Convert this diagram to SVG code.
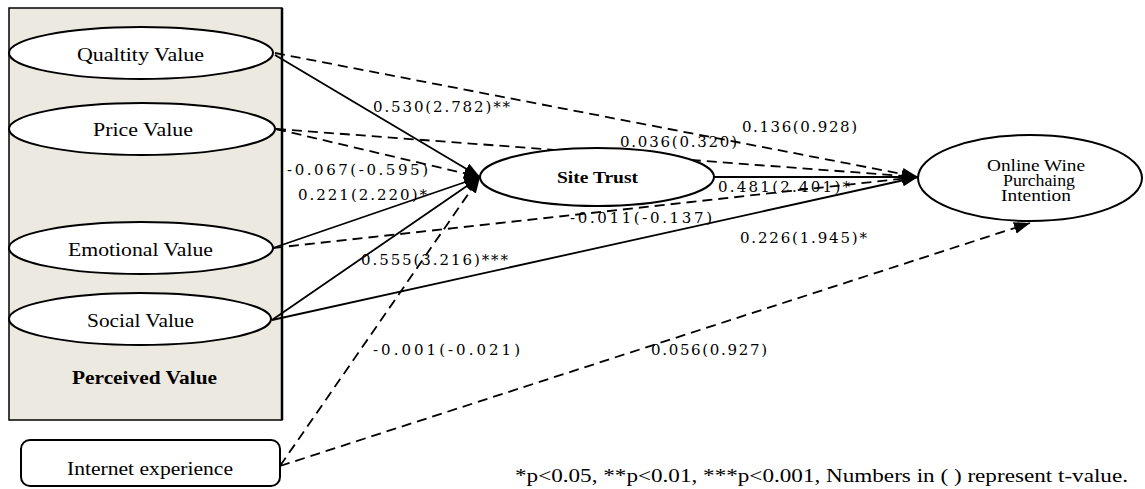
<svg xmlns="http://www.w3.org/2000/svg" width="1145" height="489" viewBox="0 0 1145 489">
  <style>
    .node { fill: #ffffff; stroke: #000000; stroke-width: 2; }
    .lbl { font-family: "Liberation Serif", "Times New Roman", serif; font-size: 18px; fill: #000000; }
    .bold { font-weight: bold; }
    .coef { font-family: "DejaVu Serif", "Liberation Serif", serif; font-size: 15px; fill: #000000; }
    .path { fill: none; stroke: #000000; stroke-width: 1.8; }
    .dash { stroke-dasharray: 10 6; }
  </style>
  <defs>
    <marker id="head" viewBox="0 0 16 12" refX="16" refY="6" markerWidth="16" markerHeight="12" markerUnits="userSpaceOnUse" orient="auto">
      <path d="M0,0 L16,6 L0,12 Z" fill="#000000"/>
    </marker>
  </defs>

  <rect width="1145" height="489" fill="#ffffff"/>

  <!-- Perceived value panel -->
  <g id="perceived-value">
    <rect x="9" y="8" width="273" height="412" fill="#ece9e0" stroke="#000000" stroke-width="1.5"/>
    <line x1="282" y1="8" x2="282" y2="420" stroke="#000000" stroke-width="2.5"/>
    <text class="lbl bold" x="72" y="384" textLength="145" lengthAdjust="spacingAndGlyphs">Perceived Value</text>
  </g>

  <!-- connectors -->
  <g id="connectors">
    <line class="path" x1="275" y1="55" x2="480" y2="177" marker-end="url(#head)"/>
    <line class="path dash" x1="275" y1="53" x2="918" y2="177" marker-end="url(#head)"/>
    <line class="path dash" x1="276" y1="129" x2="480" y2="177" marker-end="url(#head)"/>
    <line class="path dash" x1="276" y1="129" x2="918" y2="177" marker-end="url(#head)"/>
    <line class="path" x1="273" y1="248" x2="480" y2="177" marker-end="url(#head)"/>
    <line class="path dash" x1="273" y1="248" x2="918" y2="177" marker-end="url(#head)"/>
    <line class="path" x1="272" y1="320" x2="480" y2="177" marker-end="url(#head)"/>
    <line class="path" x1="272" y1="320" x2="918" y2="177" marker-end="url(#head)"/>
    <line class="path" x1="714" y1="177" x2="918" y2="177" marker-end="url(#head)"/>
    <line class="path dash" x1="280" y1="466" x2="480" y2="177" marker-end="url(#head)"/>
    <line class="path dash" x1="280" y1="466" x2="1030" y2="223" marker-end="url(#head)"/>

    <text class="coef" x="373" y="112" textLength="137" lengthAdjust="spacing">0.530(2.782)**</text>
    <text class="coef" x="287" y="175" textLength="141" lengthAdjust="spacing">-0.067(-0.595)</text>
    <text class="coef" x="298" y="200" textLength="129" lengthAdjust="spacing">0.221(2.220)*</text>
    <text class="coef" x="361" y="265" textLength="147" lengthAdjust="spacing">0.555(3.216)***</text>
    <text class="coef" x="742" y="132" textLength="115" lengthAdjust="spacing">0.136(0.928)</text>
    <text class="coef" x="620" y="147" textLength="117" lengthAdjust="spacing">0.036(0.320)</text>
    <text class="coef" x="718" y="192" textLength="132" lengthAdjust="spacing">0.481(2.401)*</text>
    <text class="coef" x="570" y="223" textLength="142" lengthAdjust="spacing">-0.011(-0.137)</text>
    <text class="coef" x="740" y="243" textLength="127" lengthAdjust="spacing">0.226(1.945)*</text>
    <text class="coef" x="373" y="355" textLength="147" lengthAdjust="spacing">-0.001(-0.021)</text>
    <text class="coef" x="651" y="355" textLength="116" lengthAdjust="spacing">0.056(0.927)</text>
  </g>

  <g id="quality-value">
    <ellipse class="node" cx="141" cy="53" rx="132" ry="26"/>
    <text class="lbl" x="77" y="61" textLength="127" lengthAdjust="spacingAndGlyphs">Qualtity Value</text>
  </g>
  <g id="price-value">
    <ellipse class="node" cx="142" cy="129" rx="133" ry="26"/>
    <text class="lbl" x="93" y="136" textLength="100" lengthAdjust="spacingAndGlyphs">Price Value</text>
  </g>
  <g id="emotional-value">
    <ellipse class="node" cx="141" cy="248" rx="132" ry="26"/>
    <text class="lbl" x="68" y="256" textLength="145" lengthAdjust="spacingAndGlyphs">Emotional Value</text>
  </g>
  <g id="social-value">
    <ellipse class="node" cx="140" cy="319" rx="131" ry="26"/>
    <text class="lbl" x="87" y="327" textLength="107" lengthAdjust="spacingAndGlyphs">Social Value</text>
  </g>
  <g id="internet-experience">
    <rect class="node" x="21" y="440" width="259" height="46" rx="9"/>
    <text class="lbl" x="67" y="475" textLength="166" lengthAdjust="spacingAndGlyphs">Internet experience</text>
  </g>
  <g id="site-trust">
    <ellipse class="node" cx="597" cy="177" rx="117" ry="29"/>
    <text class="lbl bold" x="557" y="183" style="font-size:16px" textLength="81" lengthAdjust="spacingAndGlyphs">Site Trust</text>
  </g>
  <g id="online-wine-purchasing-intention">
    <ellipse class="node" cx="1030" cy="178" rx="112" ry="43"/>
    <g class="lbl" style="font-size:16px" text-anchor="middle">
      <text x="1036" y="171" textLength="98" lengthAdjust="spacingAndGlyphs">Online Wine</text>
      <text x="1039" y="186" textLength="72" lengthAdjust="spacingAndGlyphs">Purchaing</text>
      <text x="1036" y="201" textLength="70" lengthAdjust="spacingAndGlyphs">Intention</text>
    </g>
  </g>

  <text class="lbl" x="515" y="482" textLength="613" lengthAdjust="spacingAndGlyphs">*p&lt;0.05, **p&lt;0.01, ***p&lt;0.001, Numbers in ( ) represent t-value.</text>
</svg>
